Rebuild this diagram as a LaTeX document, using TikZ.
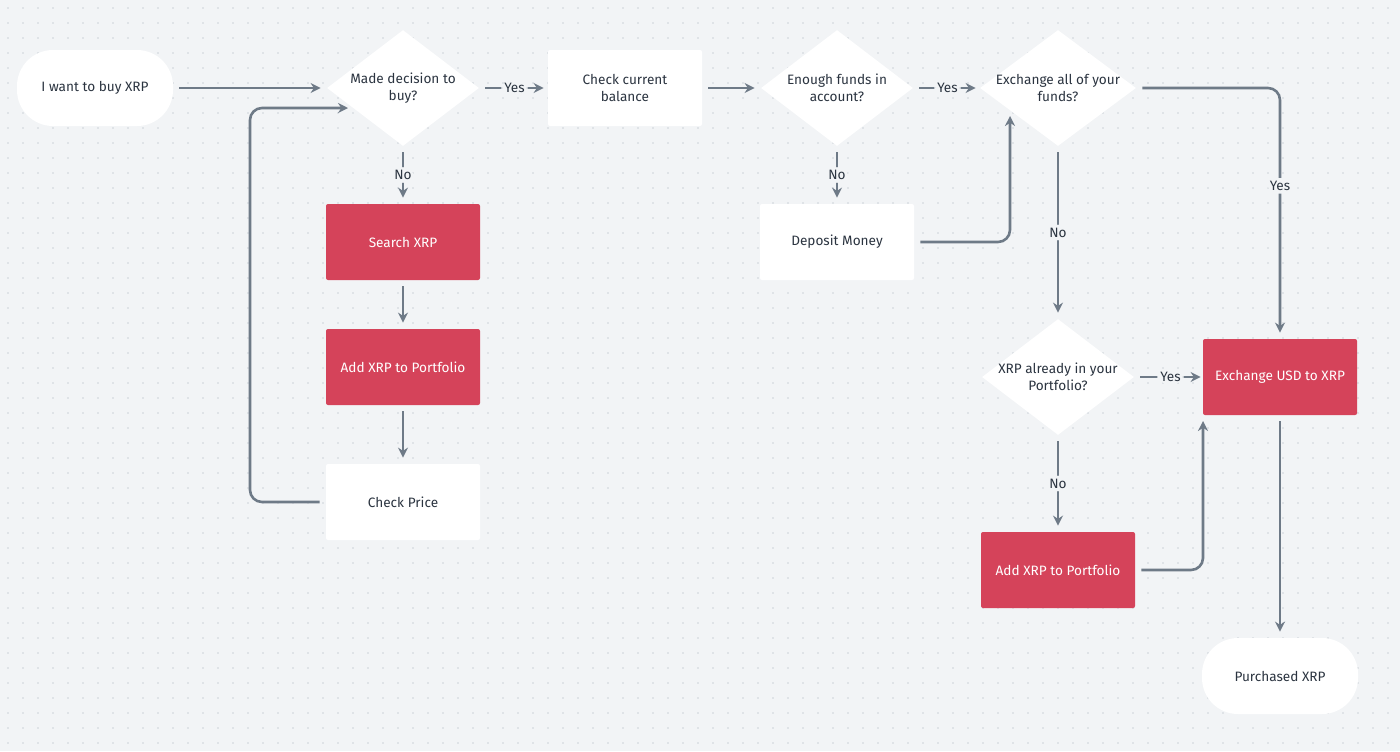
\documentclass[tikz,border=0pt]{standalone}
\usepackage{fontspec}
\setmainfont{Fira Sans}
\usetikzlibrary{shapes.geometric,arrows.meta}
\definecolor{bg}{HTML}{F2F4F6}
\definecolor{dotc}{HTML}{CDD3D9}
\definecolor{ln}{HTML}{6E7A87}
\definecolor{red}{HTML}{D5435A}
\definecolor{txt}{HTML}{2B3440}
\begin{document}
\begin{tikzpicture}[x=0.5pt,y=-0.5pt,
  every node/.style={font=\fontsize{6.8pt}{8.6pt}\selectfont,text=txt,align=center},
  box/.style={rectangle,rounded corners=1pt,fill=white,minimum width=77pt,minimum height=38pt,inner sep=0},
  rbox/.style={box,fill=red,text=white},
  pill/.style={rectangle,rounded corners=18pt,fill=white,minimum width=78pt,minimum height=38pt,inner sep=0},
  dia/.style={diamond,fill=white,minimum width=76pt,minimum height=58pt,inner sep=0,aspect=1.3},
  lab/.style={fill=bg,inner sep=1.5pt},
  con/.style={draw=ln,line width=1.3pt,rounded corners=6pt,-{Stealth[length=5pt,width=5pt]}}]
\fill[bg] (0,0) rectangle (1400,751);
\foreach \i in {0,...,92}{\foreach \j in {0,...,49}{\fill[dotc] (8+15*\i,8+15*\j) circle (0.45pt);}}
\useasboundingbox (0,0) rectangle (1400,751);
% nodes
\node[pill] (start) at (95,88) {I want to buy XRP};
\node[dia] (d1) at (403,88) {}; \node (t1) at (d1) {Made decision to\\buy?};
\node[box] (bal) at (625,88) {Check current\\balance};
\node[dia] (d2) at (837,88) {}; \node (t2) at (d2) {Enough funds in\\account?};
\node[dia,minimum width=78pt] (d3) at (1058,88) {}; \node (t3) at (d3) {Exchange all of your\\funds?};
\node[rbox] (search) at (403,242) {Search XRP};
\node[rbox] (add1) at (403,367) {Add XRP to Portfolio};
\node[box] (price) at (403,502) {Check Price};
\node[box] (dep) at (837,242) {Deposit Money};
\node[dia] (d4) at (1058,377) {}; \node (t4) at (d4) {XRP already in your\\Portfolio?};
\node[rbox] (exch) at (1280,377) {Exchange USD to XRP};
\node[rbox] (add2) at (1058,570) {Add XRP to Portfolio};
\node[pill] (done) at (1280,676) {Purchased XRP};
\coordinate (c1) at (348,108);
\coordinate (c2) at (1010,116);
\coordinate (c3) at (1203,421);
% connectors
\draw[con] ([xshift=3pt]start.east) -- ([xshift=-3pt]d1.west);
\draw[con] ([xshift=3pt]d1.east) -- node[lab]{Yes} ([xshift=-2pt]bal.west);
\draw[con] ([xshift=3pt]bal.east) -- ([xshift=-3pt]d2.west);
\draw[con] ([xshift=3pt]d2.east) -- node[lab]{Yes} ([xshift=-2pt]d3.west);
\draw[con] ([xshift=3pt]d3.east) -| node[lab,pos=0.7]{Yes} ([yshift=3pt]exch.north);
\draw[con] ([yshift=-3pt]d3.south) -- node[lab]{No} ([yshift=3pt]d4.north);
\draw[con] ([xshift=3pt]d4.east) -- node[lab]{Yes} ([xshift=-1pt]exch.west);
\draw[con] ([yshift=-3pt]d4.south) -- node[lab]{No} ([yshift=3pt]add2.north);
\draw[con] ([xshift=3pt]add2.east) -| (c3);
\draw[con] ([yshift=-3pt]exch.south) -- ([yshift=3pt]done.north);
\draw[con] ([yshift=-3pt]d1.south) -- node[lab]{No} ([yshift=3pt]search.north);
\draw[con] ([yshift=-3pt]search.south) -- ([yshift=3pt]add1.north);
\draw[con] ([yshift=-3pt]add1.south) -- ([yshift=3pt]price.north);
\draw[con] ([xshift=-3pt]price.west) -| (250,108) -- (c1);
\draw[con] ([yshift=-3pt]d2.south) -- node[lab]{No} ([yshift=3pt]dep.north);
\draw[con] ([xshift=3pt]dep.east) -| (c2);
\end{tikzpicture}
\end{document}
